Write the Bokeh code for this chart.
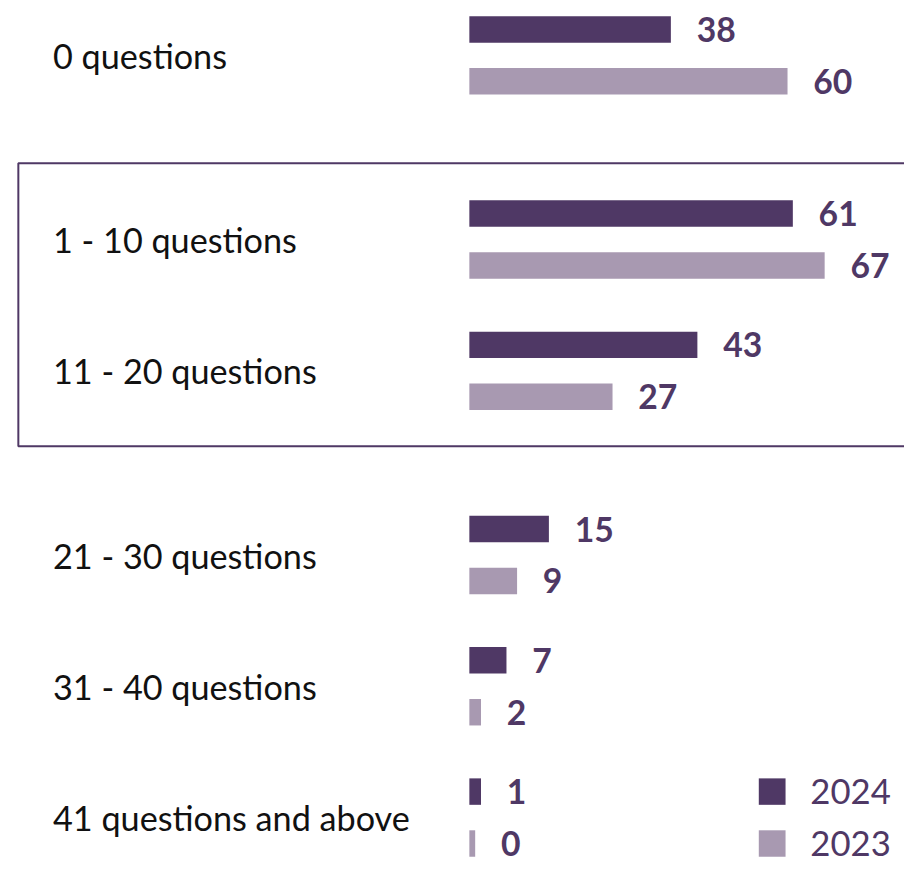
import numpy as np
from bokeh.plotting import figure
from bokeh.models import Range1d, ColumnDataSource
from bokeh.core.properties import value
from bokeh.embed import file_html
from bokeh.resources import INLINE

# ---- data ----
categories = ["0 questions", "1 - 10 questions", "11 - 20 questions",
              "21 - 30 questions", "31 - 40 questions", "41 questions and above"]
values_2024 = [38, 61, 43, 15, 7, 1]
values_2023 = [60, 67, 27, 9, 2, 0]
series_names = ["2024", "2023"]
highlighted = ["1 - 10 questions", "11 - 20 questions"]

# ---- layout / style (design grid is 912 x 876, drawn into 904 x 868) ----
W, H = 904, 868
DW, DH = 912, 876
BOTTOM_PAD = 10
SX = W / DW
PX_PER_UNIT = 5.35
ORIGIN_PX = 473
DARK = "#4f3865"
LIGHT = "#a899b1"
FONT = "Lato"
FIRST_CENTER = 56
STEP = 134
EXTRA_GAP = 54
BAR_OFFSET = 26.5
BAR_H = 27
MIN_STUB = 1.1

def px(n):
    return f"{n * SX:.1f}px"

def xdata(refpx):
    return (refpx - ORIGIN_PX) / PX_PER_UNIT

def shown(v):
    return max(v, 2 * MIN_STUB) if v > 0 else MIN_STUB

# group centers (y axis flipped, in design pixels)
centers = []
gaps = 0
for i, c in enumerate(categories):
    if i > 0 and ((c in highlighted) != (categories[i - 1] in highlighted)):
        gaps += 1
    centers.append(FIRST_CENTER + STEP * i + EXTRA_GAP * gaps)
centers = np.array(centers, dtype=float)

p = figure(width=W, height=H, output_backend="svg", toolbar_location=None,
           x_range=Range1d(xdata(0), xdata(DW)), y_range=Range1d(DH + BOTTOM_PAD, 0),
           min_border=0, min_border_left=0, min_border_right=0,
           min_border_top=0, min_border_bottom=0)
p.axis.visible = False
p.grid.visible = False
p.outline_line_color = None
p.background_fill_color = "white"
p.border_fill_color = "white"

for name, vals, color, sign in [(series_names[0], values_2024, DARK, -1),
                                (series_names[1], values_2023, LIGHT, 1)]:
    src = ColumnDataSource(dict(
        y=centers + sign * BAR_OFFSET,
        right=[shown(v) for v in vals],
        label=[str(v) for v in vals],
    ))
    p.hbar(y="y", left=0, right="right", height=BAR_H, source=src,
           fill_color=color, line_color=None)
    p.text(x="right", y="y", text="label", source=src, x_offset=26 * SX,
           text_font=value(FONT), text_font_style="bold",
           text_font_size=px(34), text_color=DARK,
           text_align="left", text_baseline="middle")

# category labels
p.text(x=[xdata(53)] * len(categories), y=centers, text=categories,
       text_font=value(FONT), text_font_size=px(34.5), text_color="#111111",
       text_align="left", text_baseline="middle")

# highlight box
hi_idx = [categories.index(c) for c in highlighted]
box_top = centers[min(hi_idx)] - 78
box_bot = centers[max(hi_idx)] + 77
p.quad(left=[xdata(18)], right=[xdata(DW + 20)], top=[box_top], bottom=[box_bot],
       fill_color=None, line_color=DARK, line_width=2)

# legend (aligned with last group's bars)
leg_y = [centers[-1] - BAR_OFFSET, centers[-1] + BAR_OFFSET]
p.quad(left=[xdata(765)] * 2, right=[xdata(792)] * 2,
       top=[y - BAR_H / 2 for y in leg_y], bottom=[y + BAR_H / 2 for y in leg_y],
       fill_color=[DARK, LIGHT], line_color=None)
p.text(x=[xdata(792)] * 2, y=leg_y, text=series_names, x_offset=25 * SX,
       text_font=value(FONT), text_font_size=px(35), text_color=DARK,
       text_align="left", text_baseline="middle")

open("out.html", "w").write(file_html(p, INLINE))
